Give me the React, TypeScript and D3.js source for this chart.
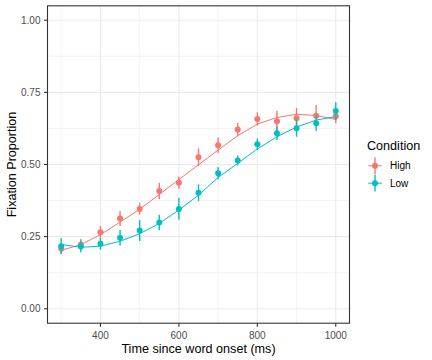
import React from "react";
import * as d3 from "d3";

const times = [300, 350, 400, 450, 500, 550, 600, 650, 700, 750, 800, 850, 900, 950, 1000];
const conditions = ["High", "Low"];
const colors = ["#F8766D", "#00BFC4"];
const meanHigh = [0.208, 0.223, 0.265, 0.313, 0.346, 0.408, 0.437, 0.525, 0.567, 0.621, 0.658, 0.65, 0.66, 0.669, 0.667];
const meanLow = [0.217, 0.216, 0.225, 0.246, 0.271, 0.299, 0.346, 0.402, 0.47, 0.514, 0.57, 0.608, 0.626, 0.643, 0.685];
const errHigh = [0.018, 0.02, 0.022, 0.026, 0.02, 0.028, 0.021, 0.031, 0.027, 0.023, 0.023, 0.036, 0.036, 0.037, 0.024];
const errLow = [0.027, 0.021, 0.02, 0.027, 0.036, 0.027, 0.0375, 0.029, 0.021, 0.017, 0.02, 0.023, 0.03, 0.027, 0.031];
const fitHigh = [0.203, 0.222, 0.257, 0.3, 0.345, 0.396, 0.448, 0.499, 0.55, 0.6, 0.64, 0.663, 0.674, 0.67, 0.656];
const fitLow = [0.223, 0.213, 0.217, 0.234, 0.26, 0.296, 0.342, 0.394, 0.455, 0.504, 0.554, 0.596, 0.63, 0.654, 0.666];
const xTicks = [400, 600, 800, 1000];
const xMinor = [300, 500, 700, 900];
const yTicks = [0, 0.25, 0.5, 0.75, 1.0];
const yMinor = [0.125, 0.375, 0.625, 0.875];

const FONT = "'Liberation Sans', Arial, sans-serif";

export default function App() {
  const W = 432, H = 360;
  const left = 47.5, right = 349.5, top = 5.8, bottom = 323.2;
  const x = d3.scaleLinear().domain([265, 1035]).range([left, right]);
  const y = d3.scaleLinear().domain([-0.05, 1.05]).range([bottom, top]);
  const means = [meanHigh, meanLow];
  const errs = [errHigh, errLow];
  const fits = [fitHigh, fitLow];
  const line = d3.line<number>().x((_, i) => x(times[i])).y((d) => y(d));

  return (
    <svg width={W} height={H} style={{ position: "absolute", left: 0, top: 0, fontFamily: FONT }}>
      <rect x={0} y={0} width={W} height={H} fill="#fff" />
      {/* grid */}
      {xMinor.map((t) => (
        <line key={"xm" + t} x1={x(t)} x2={x(t)} y1={top} y2={bottom} stroke="#EBEBEB" strokeWidth={0.6} />
      ))}
      {yMinor.map((t) => (
        <line key={"ym" + t} x1={left} x2={right} y1={y(t)} y2={y(t)} stroke="#EBEBEB" strokeWidth={0.6} />
      ))}
      {xTicks.map((t) => (
        <line key={"xg" + t} x1={x(t)} x2={x(t)} y1={top} y2={bottom} stroke="#EBEBEB" strokeWidth={1.1} />
      ))}
      {yTicks.map((t) => (
        <line key={"yg" + t} x1={left} x2={right} y1={y(t)} y2={y(t)} stroke="#EBEBEB" strokeWidth={1.1} />
      ))}
      {/* fitted lines */}
      {fits.map((f, k) => (
        <path key={"f" + k} d={line(f) || ""} fill="none" stroke={colors[k]} strokeWidth={1} />
      ))}
      {/* point ranges */}
      {means.map((m, k) => (
        <g key={"p" + k}>
          {m.map((v, i) => (
            <g key={i}>
              <line x1={x(times[i])} x2={x(times[i])} y1={y(v - errs[k][i])} y2={y(v + errs[k][i])} stroke={colors[k]} strokeWidth={1.4} />
              <circle cx={x(times[i])} cy={y(v)} r={3} fill={colors[k]} />
            </g>
          ))}
        </g>
      ))}
      {/* panel border */}
      <rect x={left} y={top} width={right - left} height={bottom - top} fill="none" stroke="#333333" strokeWidth={1.1} />
      {/* axes ticks */}
      {xTicks.map((t) => (
        <g key={"xt" + t}>
          <line x1={x(t)} x2={x(t)} y1={bottom} y2={bottom + 3.5} stroke="#333333" strokeWidth={1.1} />
          <text x={x(t)} y={338.5} textAnchor="middle" fontSize={10} fill="#4D4D4D">{t}</text>
        </g>
      ))}
      {yTicks.map((t) => (
        <g key={"yt" + t}>
          <line x1={left - 3.5} x2={left} y1={y(t)} y2={y(t)} stroke="#333333" strokeWidth={1.1} />
          <text x={40.5} y={y(t)} dy="0.36em" textAnchor="end" fontSize={10} fill="#4D4D4D">{t.toFixed(2)}</text>
        </g>
      ))}
      {/* axis titles */}
      <text x={(left + right) / 2} y={352.5} textAnchor="middle" fontSize={12.6} fill="#000">Time since word onset (ms)</text>
      <text transform={`translate(16.3, ${(top + bottom) / 2}) rotate(-90)`} textAnchor="middle" fontSize={12.6} fill="#000">Fixation Proportion</text>
      {/* legend */}
      <text x={367} y={150} fontSize={12.6} fill="#000">Condition</text>
      {conditions.map((c, k) => {
        const cy = 165.8 + k * 17.4;
        const cx = 375;
        return (
          <g key={"l" + c}>
            <line x1={cx - 6.8} x2={cx + 6.8} y1={cy} y2={cy} stroke={colors[k]} strokeWidth={1} />
            <line x1={cx} x2={cx} y1={cy - 8.4} y2={cy + 8.4} stroke={colors[k]} strokeWidth={1.4} />
            <circle cx={cx} cy={cy} r={3} fill={colors[k]} />
            <text x={390} y={cy} dy="0.36em" fontSize={10} fill="#000">{c}</text>
          </g>
        );
      })}
    </svg>
  );
}
